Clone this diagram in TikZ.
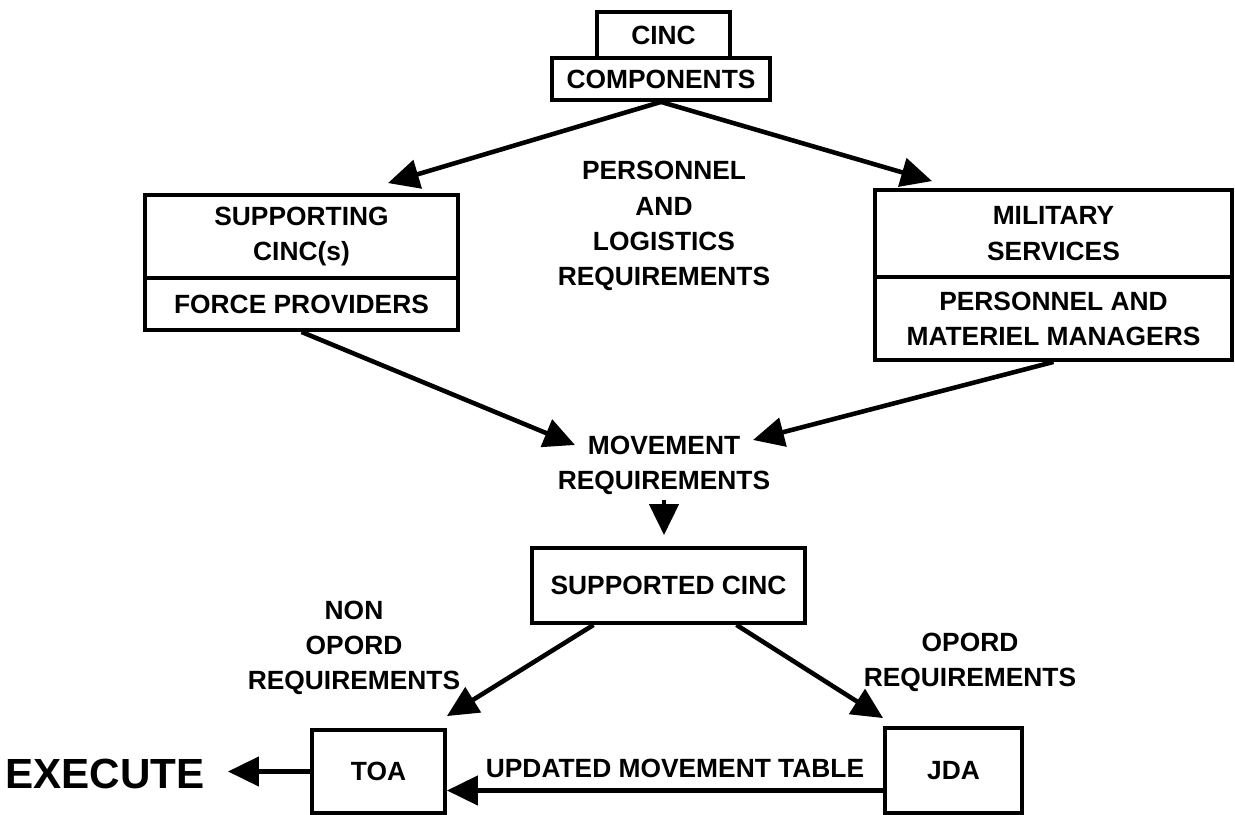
\documentclass[tikz,border=0pt]{standalone}
\usepackage{fontspec}
\setmainfont{Liberation Sans}
\usetikzlibrary{arrows.meta,calc}
\pgfkeys{tikz/mybox/.style={draw, line width=2.2pt, inner sep=0pt, align=center}}
\pgfkeys{tikz/myarrow/.style={-{Triangle[length=0.62cm,width=0.58cm]}, line width=2.6pt}}
\pgfkeys{tikz/mylabel/.style={inner sep=0pt, align=center}}

\begin{document}
\begin{tikzpicture}[x=0.02cm, y=-0.02cm, font=\bfseries\fontsize{15}{20}\selectfont]
            \useasboundingbox (0,0) rectangle (1235,815);

            \node[mybox, minimum width=2.66cm, minimum height=0.92cm] (cinc) at (663.5,35) {CINC};
            \node[mybox, minimum width=4.36cm, minimum height=0.84cm] (comp) at (661,79) {COMPONENTS};

            \node[mybox, minimum width=6.26cm, minimum height=1.66cm] (supp) at (301.5,236.5) {SUPPORTING\\CINC(s)};
            \node[mybox, minimum width=6.26cm, minimum height=1.04cm] (force) at (301.5,304) {FORCE PROVIDERS};

            \node[mybox, minimum width=7.14cm, minimum height=1.74cm] (mil) at (1053.5,233.5) {MILITARY\\SERVICES};
            \node[mybox, minimum width=7.14cm, minimum height=1.66cm] (mgr) at (1053.5,318.5) {PERSONNEL AND\\MATERIEL MANAGERS};

            \node[mylabel] (plr) at (664,226) {PERSONNEL\\AND\\LOGISTICS\\REQUIREMENTS};

                    \draw[myarrow] (comp.south) -- ([xshift=1.73cm, yshift=0.2cm]supp.north);
                    \draw[myarrow] (comp.south) -- ([xshift=-2.43cm, yshift=0.14cm]mil.north);

            \node[mylabel] (move) at (664,465) {MOVEMENT\\REQUIREMENTS};

                    \draw[myarrow] (force.south) -- ($(move)+(-89,-20)$);
                    \draw[myarrow] (mgr.south) -- ($(move)+(89,-25)$);

            \node[mybox, minimum width=5.46cm, minimum height=1.5cm] (spd) at (668.5,585.5) {SUPPORTED CINC};

                    \draw[myarrow, shorten <=0.1cm, shorten >=0.22cm] (move.south) -- (move.south |- spd.north);

            \node[mylabel] (nonop) at (354,648) {NON\\OPORD\\REQUIREMENTS};
            \node[mylabel] (opord) at (970,662) {OPORD\\REQUIREMENTS};

            \node[mybox, minimum width=2.66cm, minimum height=1.66cm] (toa) at (378.5,771.5) {TOA};
            \node[mybox, minimum width=2.74cm, minimum height=1.7cm] (jda) at (953.5,770.5) {JDA};

                    \draw[myarrow] ([xshift=-1.5cm]spd.south) -- ([yshift=0.24cm]toa.north east);
                    \draw[myarrow] ([xshift=1.36cm]spd.south) -- ([yshift=0.16cm]jda.north west);

            \node[mylabel, font=\bfseries\fontsize{24}{28}\selectfont] (exe) at (105,774) {EXECUTE};

                    \draw[myarrow, shorten >=0.46cm] (toa.west) -- (toa.west -| exe.east);

            \coordinate (updstart) at ([yshift=-0.4cm]jda.west);
            \node[mylabel] (upd) at (675,768) {UPDATED MOVEMENT TABLE};

                    \draw[myarrow] (updstart) -- (updstart -| toa.east);
\end{tikzpicture}
\end{document}
